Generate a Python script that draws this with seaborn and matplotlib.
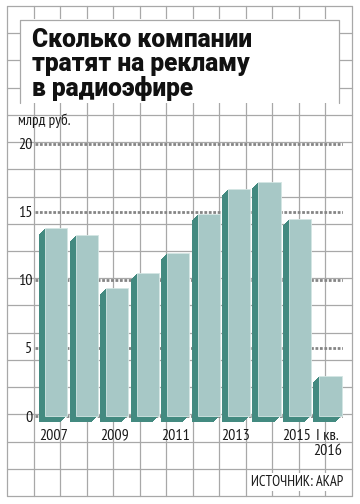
import matplotlib
matplotlib.use("Agg")
import matplotlib.pyplot as plt
import matplotlib.transforms as mtransforms
from matplotlib.lines import Line2D
from matplotlib.patches import Rectangle
from matplotlib import font_manager as fm
import seaborn as sns
import pandas as pd

# ---- data ----
periods = ["2007", "2008", "2009", "2010", "2011", "2012", "2013", "2014", "2015", "I кв.\n2016"]
spend = [13.8, 13.3, 9.4, 10.5, 12.0, 14.8, 16.7, 17.15, 14.45, 2.95]
shown_ticks = [0, 2, 4, 6, 8, 9]
shown_labels = ["2007", "2009", "2011", "2013", "2015", "I кв.\n2016"]
y_ticks = [0, 5, 10, 15, 20]
title_lines = ["Сколько компании", "тратят на рекламу", "в радиоэфире"]
unit_label = "млрд руб."
source_label = "ИСТОЧНИК: АКАР"

FRONT = "#a7c8c6"
SIDE = "#438a80"
GRIDC = "#a8a8a8"
DOTC = "#858585"

ttf = fm.fontManager.ttflist
available = {f.name for f in ttf}

def wnum(w):
    if isinstance(w, (int, float)):
        return int(w)
    return fm.weight_dict.get(str(w).lower(), 400)

def pick(cands):
    for c in cands:
        if c in available:
            return c
    return "DejaVu Sans"

def pick_heavy(cands):
    best = None
    for c in cands:
        ws = [wnum(f.weight) for f in ttf if f.name == c]
        if ws and max(ws) >= 800:
            return c, max(ws)
        if ws and best is None and max(ws) >= 700:
            best = (c, max(ws))
    return best if best else ("DejaVu Sans", 700)

NARROW = pick(["PT Sans Narrow", "Roboto Condensed", "Liberation Sans Narrow", "Arial Narrow"])
HEAVY, HEAVY_W = pick_heavy(["Roboto", "Montserrat", "Rubik", "Inter", "Open Sans", "Noto Sans", "Lato"])

sns.set_style("white")
plt.rcParams["font.family"] = [NARROW, "DejaVu Sans"]

W, H = 360, 504
fig = plt.figure(figsize=(W / 100, H / 100), dpi=100)
fig.patch.set_facecolor("white")

def fx(px):
    return px / W

def fy(py):
    return 1 - py / H

# background sheet grid
x0, x1, y0, y1 = 7, 352, 6, 496
nx, ny = 13, 18
for i in range(nx + 1):
    x = x0 + (x1 - x0) * i / nx
    fig.add_artist(Line2D([fx(x), fx(x)], [fy(y0), fy(y1)], color=GRIDC, lw=0.9, zorder=-2))
for j in range(ny + 1):
    y = y0 + (y1 - y0) * j / ny
    fig.add_artist(Line2D([fx(x0), fx(x1)], [fy(y), fy(y)], color=GRIDC, lw=0.9, zorder=-2))

# title box
bx0, bx1, by0, by1 = 19.5, 338.5, 19.5, 103
fig.add_artist(Rectangle((fx(bx0), fy(by1)), fx(bx1) - fx(bx0), fy(by0) - fy(by1),
                         facecolor="white", edgecolor="none", zorder=-1))
fig.add_artist(Line2D([fx(bx0), fx(bx0), fx(bx1), fx(bx1)],
                      [fy(by1), fy(by0), fy(by0), fy(by1)], color=GRIDC, lw=0.9, zorder=-0.9))

title_texts = []
for line, base in zip(title_lines, [47, 71, 96]):
    t = fig.text(fx(32), fy(base), line, ha="left", va="baseline", fontsize=18.5,
                 family=[HEAVY, "DejaVu Sans"], fontweight=HEAVY_W, color="#111111", zorder=3)
    title_texts.append(t)

# fit first title line to the reference width (~221 px)
renderer = fig.canvas.get_renderer()
w0 = title_texts[0].get_window_extent(renderer).width
scale = 221 / w0
for t in title_texts:
    t.set_fontsize(18.5 * min(max(scale, 0.8), 1.25))

# axes
ax_left, ax_right = 35, 342.7
ax_bottom, ax_top = 416 + 13.62, 143.6 - 13.62
ax = fig.add_axes([fx(ax_left), fy(ax_bottom), fx(ax_right) - fx(ax_left), fy(ax_top) - fy(ax_bottom)])
ax.patch.set_alpha(0)

df = pd.DataFrame({"period": periods, "spend": spend})
sns.barplot(data=df, x="period", y="spend", color=FRONT, saturation=1, width=0.73,
            ax=ax, zorder=3, edgecolor="#d4e6e4", linewidth=0.6)

ax.set_xlim(-0.7, 9.4)
ax.set_ylim(-1, 21)

# extrusion (dark side) of each bar
fronts = list(ax.patches)
for p in fronts:
    p.set_clip_on(False)
    for k in range(1, 7):
        off = mtransforms.ScaledTranslation(-k / 100, -k / 100, fig.dpi_scale_trans)
        r = Rectangle(p.get_xy(), p.get_width(), p.get_height(), facecolor=SIDE,
                      edgecolor="none", transform=ax.transData + off, zorder=2, clip_on=False)
        ax.add_patch(r)

ax.set_yticks(y_ticks)
ax.set_yticklabels([str(v) for v in y_ticks])
ax.set_xticks(shown_ticks)
ax.set_xticklabels(shown_labels)
ax.set_xlabel("")
ax.set_ylabel("")
ax.tick_params(axis="both", length=0, labelsize=11.5, colors="#1a1a1a")
ax.tick_params(axis="y", pad=2)
ax.tick_params(axis="x", pad=0)
for lab in ax.get_xticklabels():
    lab.set_linespacing(1.15)
    lab.set_transform(lab.get_transform() + mtransforms.ScaledTranslation(-0.03, 0.01, fig.dpi_scale_trans))
for s in ax.spines.values():
    s.set_visible(False)
ax.set_axisbelow(True)
ax.grid(axis="y", color=DOTC, lw=2.0, linestyle=(0, (1, 0.6)))
ax.grid(axis="x", visible=False)

fig.text(fx(18), fy(121), unit_label, ha="left", va="center", fontsize=11, color="#1a1a1a")
fig.text(fx(343), fy(482), source_label, ha="right", va="center", fontsize=10.5, color="#1a1a1a",
         bbox=dict(facecolor="white", edgecolor="none", pad=1.5))

fig.savefig("out.png", dpi=100)
